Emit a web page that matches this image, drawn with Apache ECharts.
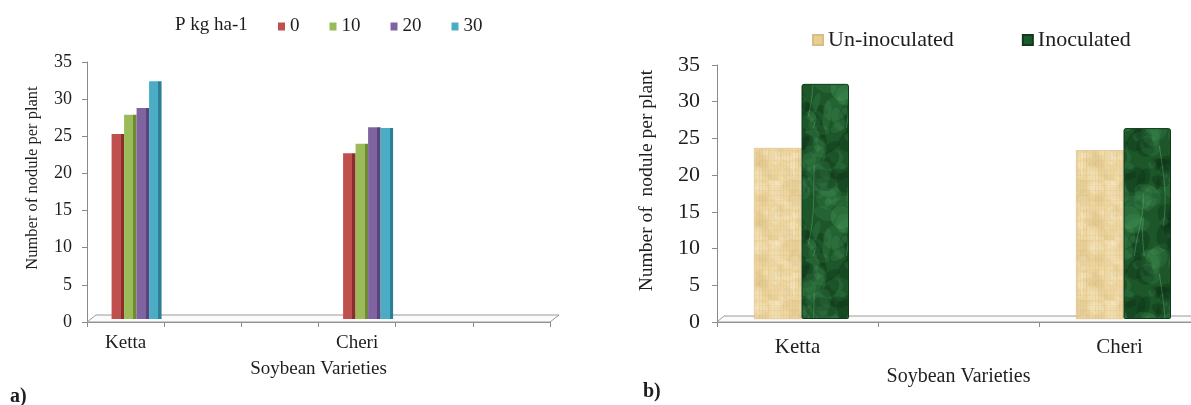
<!DOCTYPE html>
<html><head><meta charset="utf-8">
<script src="https://cdn.jsdelivr.net/npm/echarts@6/dist/echarts.min.js"></script>
<style>html,body{margin:0;padding:0;background:#fff}#c{width:1191px;height:405px}</style>
</head><body><div id="c"></div>
<script>
// ---------- data ----------
const categoriesA = ['Ketta', '', '', 'Cheri', '', ''];
const varietyA = ['Ketta', 'Cheri'];
const phosphorusLevels = ['0', '10', '20', '30'];
const p0  = [24.9, 22.3];
const p10 = [27.5, 23.6];
const p20 = [28.4, 25.8];
const p30 = [32.0, 25.7];

const categoriesB = ['Ketta', '', 'Cheri'];
const varietyB = ['Ketta', 'Cheri'];
const unInoculated = [23.2, 22.9];
const inoculated   = [31.9, 25.9];

const yMin = 0, yMax = 35, yStep = 5;

// ---------- helpers ----------
function spread(cats, names, vals) {
  return cats.map(c => { const i = names.indexOf(c); return c && i >= 0 ? vals[i] : null; });
}
const FONT = 'Liberation Serif, Times New Roman, serif';
const TXT = '#1e1e1e';
const AX = '#8a8a8a';

function side(c, d) {
  return new echarts.graphic.LinearGradient(0, 0, 1, 0, [
    {offset: 0, color: c}, {offset: 0.74, color: c},
    {offset: 0.74, color: d}, {offset: 1, color: d}]);
}
const colA = ['#c0504d', '#9bbb59', '#8064a2', '#4bacc6'];
const darkA = ['#8c2f2c', '#6e8a36', '#5a4479', '#2c7f95'];

// deterministic hash for texture speckle (styling only)
function hsh(i) { const s = Math.sin(i * 12.9898 + 78.233) * 43758.5453; return s - Math.floor(s); }

function tanTexture() {
  const W = 48, H = 60;
  const c = document.createElement('canvas'); c.width = W; c.height = H;
  const g = c.getContext('2d');
  g.fillStyle = '#eed6a0'; g.fillRect(0, 0, W, H);
  for (let i = 0; i < 40; i++) {
    g.fillStyle = i % 2 ? 'rgba(255,246,222,0.22)' : 'rgba(214,184,124,0.16)';
    g.beginPath();
    g.ellipse(hsh(i) * W, hsh(i + 100) * H, 2 + hsh(i + 200) * 6, 2 + hsh(i + 300) * 8, 0, 0, Math.PI * 2);
    g.fill();
  }
  g.lineWidth = 1;
  for (let x = 0; x < W; x += 3) { g.strokeStyle = 'rgba(205,172,112,' + (0.10 + 0.12 * hsh(x + 7)) + ')'; g.beginPath(); g.moveTo(x + 0.5, 0); g.lineTo(x + 0.5, H); g.stroke(); }
  for (let y = 0; y < H; y += 5) { g.strokeStyle = 'rgba(215,185,125,' + (0.08 + 0.10 * hsh(y + 31)) + ')'; g.beginPath(); g.moveTo(0, y + 0.5); g.lineTo(W, y + 0.5); g.stroke(); }
  return c;
}
function greenTexture() {
  const W = 96, H = 128;
  const c = document.createElement('canvas'); c.width = W; c.height = H;
  const g = c.getContext('2d');
  g.fillStyle = '#1c5629'; g.fillRect(0, 0, W, H);
  for (let i = 0; i < 90; i++) {
    const light = hsh(i + 500) > 0.5;
    g.fillStyle = light ? 'rgba(80,160,100,0.18)' : 'rgba(8,38,16,0.26)';
    const x = hsh(i) * W, y = hsh(i + 1000) * H, rx = 3 + hsh(i + 2000) * 10, ry = 3 + hsh(i + 3000) * 12;
    for (const dx of [-W, 0, W]) for (const dy of [-H, 0, H]) {
      g.beginPath(); g.ellipse(x + dx, y + dy, rx, ry, hsh(i + 4000) * 3, 0, Math.PI * 2); g.fill();
    }
  }
  g.strokeStyle = 'rgba(130,205,150,0.32)'; g.lineWidth = 1;
  for (let k = 0; k < 8; k++) {
    const x0 = hsh(k + 50) * W, y0 = hsh(k + 60) * H;
    g.beginPath(); g.moveTo(x0, y0);
    g.bezierCurveTo(x0 + 20 * (hsh(k + 70) - 0.5), y0 + 30, x0 + 30 * (hsh(k + 80) - 0.5), y0 + 50, x0 + 25 * (hsh(k + 90) - 0.5), y0 + 80);
    g.stroke();
  }
  return c;
}

// ---------- layout ----------
const GA = {left: 87, top: 62, width: 463, height: 260};   // axes of chart a
const GAb = {left: 98, top: 59, width: 463, height: 260};  // bars of chart a (3D depth shift)
const GB = {left: 717, top: 65, width: 483, height: 257};  // axes of chart b
const GBb = {left: 721, top: 61, width: 483, height: 258}; // bars of chart b

const chart = echarts.init(document.getElementById('c'), null, {renderer: 'canvas'});

function valueAxis(grid, show, labelSize, margin, name, nameGap, nameSize, shift) {
  return {
    type: 'value', gridIndex: grid, min: yMin, max: yMax, interval: yStep, show: show,
    axisLine: {show: true, lineStyle: {color: AX, width: 1}},
    axisTick: {show: true, length: 5, lineStyle: {color: AX}},
    splitLine: {show: false},
    axisLabel: {color: TXT, fontFamily: FONT, fontSize: labelSize, margin: margin},
    name: name, nameLocation: 'middle', nameGap: nameGap, nameRotate: 90,
    nameTextStyle: {color: TXT, fontFamily: FONT, fontSize: nameSize, padding: [0, 0, 0, shift]}
  };
}
function catAxis(grid, cats, show, labelSize, margin, nameGap, nameSize) {
  return {
    type: 'category', gridIndex: grid, data: cats, show: show, boundaryGap: true,
    axisLine: {show: true, lineStyle: {color: AX, width: 1}},
    axisTick: {show: true, length: 5, alignWithLabel: false, lineStyle: {color: AX}},
    axisLabel: {color: TXT, fontFamily: FONT, fontSize: labelSize, margin: margin, interval: 0},
    name: show ? 'Soybean Varieties' : '', nameLocation: 'middle', nameGap: nameGap,
    nameTextStyle: {color: TXT, fontFamily: FONT, fontSize: nameSize}
  };
}

const seriesA = [p0, p10, p20, p30].map((vals, k) => ({
  type: 'bar', name: phosphorusLevels[k], xAxisIndex: 1, yAxisIndex: 1,
  data: spread(categoriesA, varietyA, vals), barWidth: 12.5, barGap: '0%',
  itemStyle: {color: side(colA[k], darkA[k])}, z: 3
}));
const tanPat = {image: tanTexture(), repeat: 'repeat'};
const greenPat = {image: greenTexture(), repeat: 'repeat'};
const seriesB = [
  {type: 'bar', name: 'Un-inoculated', xAxisIndex: 3, yAxisIndex: 3,
   data: spread(categoriesB, varietyB, unInoculated), barWidth: 47.5, barGap: '0%',
   itemStyle: {color: tanPat, borderColor: '#d8bd84', borderWidth: 0.6}, z: 3},
  {type: 'bar', name: 'Inoculated', xAxisIndex: 3, yAxisIndex: 3,
   data: spread(categoriesB, varietyB, inoculated), barWidth: 47.5, barGap: '0%',
   itemStyle: {color: greenPat, borderColor: '#0f3a18', borderWidth: 1, borderRadius: [2, 2, 1, 1]}, z: 3}
];

function floor(g, depthX, depthY, extra) {
  const yF = g.top + g.height, xL = g.left, xR = g.left + g.width + extra;
  return {type: 'polygon', z: 1, silent: true,
    shape: {points: [[xL, yF], [xR, yF], [xR + depthX, yF - depthY], [xL + depthX, yF - depthY]]},
    style: {fill: '#fbfbfb', stroke: '#9a9a9a', lineWidth: 1}};
}

chart.setOption({
  backgroundColor: '#ffffff',
  animation: false,
  title: [
    {text: 'P kg ha-1', left: 175, top: 16, padding: 0,
     textStyle: {fontFamily: FONT, fontSize: 19, fontWeight: 'normal', color: TXT}},
    {text: 'a)', left: 10, top: 387, padding: 0,
     textStyle: {fontFamily: FONT, fontSize: 20, fontWeight: 'bold', color: TXT}},
    {text: 'b)', left: 643, top: 382, padding: 0,
     textStyle: {fontFamily: FONT, fontSize: 20, fontWeight: 'bold', color: TXT}}
  ],
  legend: [
    {data: phosphorusLevels.map((n, k) => ({name: n, itemStyle: {color: colA[k]}})),
     left: 278, top: 17, padding: 0, itemWidth: 7, itemHeight: 8, itemGap: 30, icon: 'rect',
     textStyle: {color: TXT, fontFamily: FONT, fontSize: 19}},
    {data: [{name: 'Un-inoculated', itemStyle: {color: '#e9cf92'}}, {name: 'Inoculated', itemStyle: {color: '#1b5a2a'}}],
     left: 812, top: 29, padding: 0, itemWidth: 10, itemHeight: 10, itemGap: 68, icon: 'rect',
     textStyle: {color: TXT, fontFamily: FONT, fontSize: 22}}
  ],
  grid: [
    Object.assign({outerBoundsMode: 'none'}, GA),
    Object.assign({outerBoundsMode: 'none'}, GAb),
    Object.assign({outerBoundsMode: 'none'}, GB),
    Object.assign({outerBoundsMode: 'none'}, GBb)
  ],
  xAxis: [
    catAxis(0, categoriesA, true, 19, 12, 38, 19),
    catAxis(1, categoriesA, false, 19, 12, 38, 19),
    catAxis(2, categoriesB, true, 21, 15, 45, 20),
    catAxis(3, categoriesB, false, 21, 15, 45, 20)
  ],
  yAxis: [
    valueAxis(0, true, 18, 15, 'Number of nodule per plant', 46, 16.5, 28),
    valueAxis(1, false, 18, 15, '', 0, 16.5, 0),
    valueAxis(2, true, 22, 17, 'Number of  nodule per plant', 60, 19.5, 26),
    valueAxis(3, false, 22, 17, '', 0, 19.5, 0)
  ],
  graphic: [floor(GA, 9, 7, 0), floor(GB, 7, 6, 0)],
  series: seriesA.concat(seriesB)
});
</script></body></html>
